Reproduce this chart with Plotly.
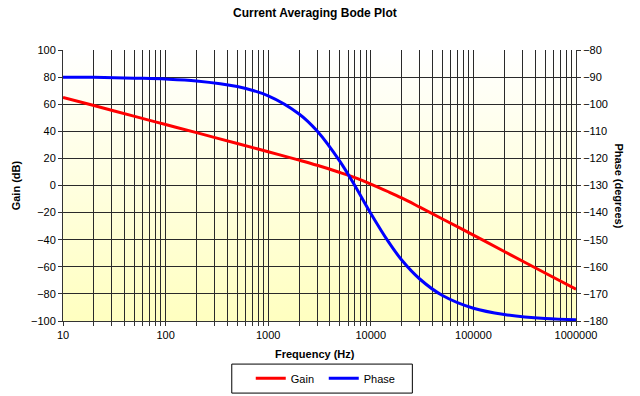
import base64
import plotly.graph_objects as go

# Data
freq_hz = [10, 20, 50, 100, 200, 500, 1000, 2000, 3000, 5000, 7000,
           10000, 15000, 20000, 30000, 50000, 100000, 200000, 500000, 1000000]
gain_db = [65.0, 59.0, 51.0, 45.0, 39.0, 31.0, 24.9, 18.7, 14.9, 9.6, 5.8,
           1.1, -4.8, -9.2, -16.0, -24.7, -36.6, -48.7, -64.6, -76.6]
phase_deg = [-90.1, -90.1, -90.4, -90.7, -91.4, -93.5, -96.9, -103.6, -109.9, -121.1, -130.1,
             -140.3, -151.0, -157.5, -164.5, -170.6, -175.3, -177.6, -179.1, -179.5]

decades = [10, 100, 1000, 10000, 100000]
x_tickvals = [d * m for d in decades for m in range(1, 10)] + [1000000]
x_ticktext = [str(v) if str(v).startswith("1") and set(str(v)[1:]) <= {"0"} else "" for v in x_tickvals]

gain_ticks = list(range(-100, 101, 20))
phase_ticks = list(range(-180, -79, 10))

FONT = "Arial, Liberation Sans, sans-serif"

svg = ('<svg xmlns="http://www.w3.org/2000/svg" width="100" height="100" preserveAspectRatio="none">'
       '<defs><linearGradient id="g" x1="0" y1="0" x2="0" y2="1">'
       '<stop offset="0" stop-color="#FFFFFF"/><stop offset="1" stop-color="#FFFFC0"/>'
       '</linearGradient></defs><rect width="100" height="100" fill="url(#g)"/></svg>')
bg_src = "data:image/svg+xml;base64," + base64.b64encode(svg.encode()).decode()

fig = go.Figure()
fig.add_trace(go.Scatter(x=freq_hz, y=gain_db, name="Gain", mode="lines",
                         line=dict(color="#FF0000", width=3, shape="spline"), yaxis="y"))
fig.add_trace(go.Scatter(x=freq_hz, y=phase_deg, name="Phase", mode="lines",
                         line=dict(color="#0000FF", width=3, shape="spline"), yaxis="y2"))

axis_common = dict(showline=True, linecolor="#333333", ticks="outside", ticklen=4,
                   tickcolor="#333333", zeroline=False, tickfont=dict(size=11),
                   automargin=False)

fig.update_layout(
    width=640, height=396,
    margin=dict(l=63, r=64, t=50, b=75, autoexpand=False),
    paper_bgcolor="white",
    plot_bgcolor="rgba(0,0,0,0)",
    font=dict(family=FONT, size=11, color="#000000"),
    title=dict(text="<b>Current Averaging Bode Plot</b>", x=0.492, xanchor="center",
               y=0.968, yanchor="middle", font=dict(size=12, family=FONT), automargin=False),
    images=[dict(source=bg_src, xref="paper", yref="paper", x=0, y=1, sizex=1, sizey=1,
                 xanchor="left", yanchor="top", sizing="stretch", layer="below")],
    xaxis=dict(type="log", range=[1, 6], tickvals=x_tickvals, ticktext=x_ticktext,
               showgrid=True, gridcolor="#2a2a2a", gridwidth=1, **axis_common),
    yaxis=dict(range=[-100, 100], tickvals=gain_ticks, showgrid=True, gridcolor="#2a2a2a",
               gridwidth=1, **axis_common),
    yaxis2=dict(range=[-180, -80], tickvals=phase_ticks, overlaying="y", side="right",
                showgrid=False, **axis_common),
    shapes=[dict(type="rect", xref="paper", yref="paper", x0=0.329, x1=0.681,
                 y0=-0.266, y1=-0.159, line=dict(color="#000000", width=1),
                 fillcolor="white", layer="above")],
    legend=dict(orientation="h", x=0.366, y=-0.158, xanchor="left", yanchor="top",
                borderwidth=0, bgcolor="rgba(0,0,0,0)",
                font=dict(size=11), itemwidth=30, entrywidth=28),
    showlegend=True,
    annotations=[
        dict(text="<b>Gain (dB)</b>", xref="paper", yref="paper", x=-0.092, y=0.5,
             xanchor="center", yanchor="middle",
             textangle=-90, showarrow=False, font=dict(size=11)),
        dict(text="<b>Phase (degrees)</b>", xref="paper", yref="paper", x=1.084, y=0.5,
             xanchor="center", yanchor="middle",
             textangle=90, showarrow=False, font=dict(size=11)),
        dict(text="<b>Frequency (Hz)</b>", xref="paper", yref="paper", x=0.492, y=-0.122,
             xanchor="center", yanchor="middle",
             showarrow=False, font=dict(size=11)),
    ],
)

fig.write_html("out.html", config={"displayModeBar": False},
               post_script="document.body.style.margin='0';document.body.style.overflow='hidden';")
